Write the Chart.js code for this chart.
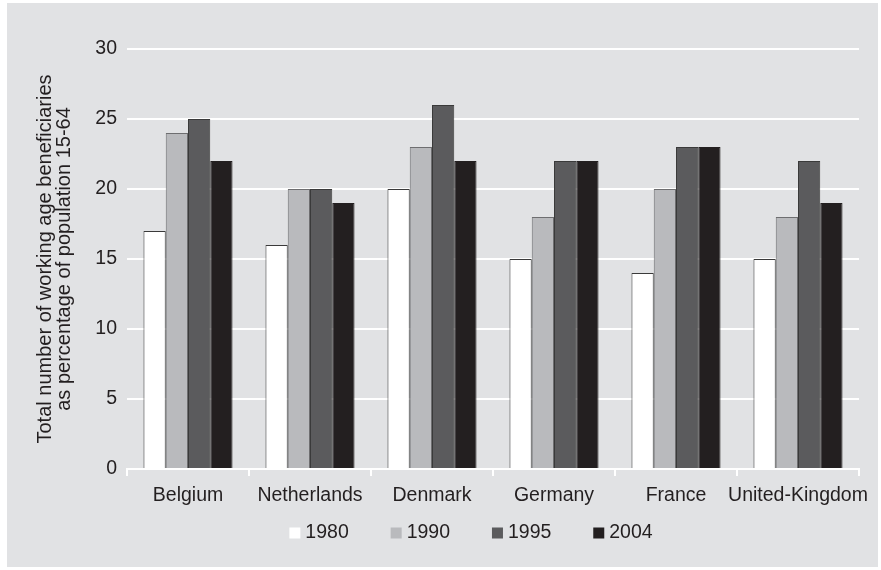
<!DOCTYPE html>
<html>
<head>
<meta charset="utf-8">
<script src="https://cdn.jsdelivr.net/npm/chart.js@4/dist/chart.umd.min.js"></script>
<style>
  html, body { margin: 0; padding: 0; background: #ffffff; }
  #wrap { width: 881px; height: 570px; position: relative; }
</style>
</head>
<body>
<div id="wrap"><canvas id="c" width="881" height="570"></canvas></div>
<script>
const categories = ['Belgium', 'Netherlands', 'Denmark', 'Germany', 'France', 'United-Kingdom'];
const seriesNames = ['1980', '1990', '1995', '2004'];
const values1980 = [17, 16, 20, 15, 14, 15];
const values1990 = [24, 20, 23, 18, 20, 18];
const values1995 = [25, 20, 26, 22, 23, 22];
const values2004 = [22, 19, 22, 22, 23, 19];
const yTicks = [0, 5, 10, 15, 20, 25, 30];
const yTitle = ['Total number of working age beneficiaries', 'as percentage of population 15-64'];

const FONT = "'Liberation Sans Narrow', 'Arial Narrow', 'Liberation Sans', Arial, sans-serif";
const TEXT = '#231f20';
const colors = ['#ffffff', '#b9babd', '#5b5b5d', '#231f20'];
const borders = ['#3a3a3a', '#6e6e70', '#3a3a3a', '#231f20'];
const allValues = [values1980, values1990, values1995, values2004];

const panelPlugin = {
  id: 'panel',
  beforeDraw(chart) {
    const ctx = chart.ctx;
    ctx.save();
    ctx.fillStyle = '#e1e2e4';
    ctx.fillRect(7, 3, 871, 564);
    ctx.restore();
  }
};

const legendPlugin = {
  id: 'customLegend',
  afterDraw(chart) {
    const ctx = chart.ctx;
    const ds = chart.data.datasets;
    ctx.save();
    ctx.font = '19.5px ' + FONT;
    ctx.textBaseline = 'middle';
    const pitch = 101.3, box = 11, gap = 5;
    const lastW = ctx.measureText(ds[ds.length - 1].label).width;
    const total = pitch * (ds.length - 1) + box + gap + lastW;
    const cx = 471, cy = 533;
    let x = cx - total / 2;
    ds.forEach((d, i) => {
      const bx = x + i * pitch;
      ctx.fillStyle = d.backgroundColor;
      ctx.fillRect(bx, cy - box / 2, box, box);
      ctx.fillStyle = TEXT;
      ctx.fillText(d.label, bx + box + gap, cy);
    });
    ctx.restore();
  }
};

new Chart(document.getElementById('c'), {
  type: 'bar',
  data: {
    labels: categories,
    datasets: seriesNames.map((n, i) => ({
      label: n,
      data: allValues[i],
      backgroundColor: colors[i],
      borderColor: borders[i],
      borderWidth: 1,
      categoryPercentage: 0.73,
      barPercentage: 1.0
    }))
  },
  options: {
    responsive: false,
    animation: false,
    devicePixelRatio: 1,
    layout: { padding: { left: 36, right: 22, top: 49, bottom: 60 } },
    plugins: {
      legend: { display: false },
      tooltip: { enabled: false }
    },
    scales: {
      x: {
        grid: {
          display: true, drawOnChartArea: false, drawTicks: true,
          tickLength: 7, color: '#ffffff', lineWidth: 2, offset: true
        },
        border: { display: true, color: '#ffffff', width: 2 },
        ticks: { color: TEXT, font: { family: FONT, size: 19.5 }, padding: 8, maxRotation: 0, autoSkip: false },
        afterFit(scale) { scale.height = 570 - 469 - 60; }
      },
      y: {
        min: 0, max: 30,
        afterBuildTicks(scale) { scale.ticks = yTicks.map(v => ({ value: v })); },
        grid: { color: '#ffffff', lineWidth: 2, drawTicks: false },
        border: { display: false },
        ticks: { color: TEXT, font: { family: FONT, size: 19.5 }, padding: 10 },
        title: {
          display: true, text: yTitle, color: TEXT,
          font: { family: FONT, size: 20, lineHeight: 0.95 },
          padding: { top: 0, bottom: 0 }
        },
        afterFit(scale) { scale.width = 127 - 36; }
      }
    }
  },
  plugins: [panelPlugin, legendPlugin]
});
</script>
</body>
</html>
